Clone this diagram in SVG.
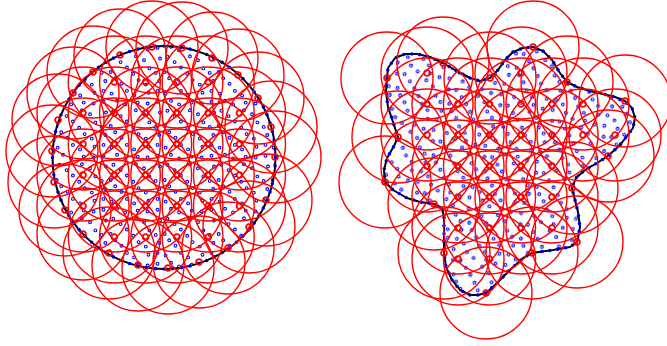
<svg xmlns="http://www.w3.org/2000/svg" width="667" height="346" viewBox="0 0 667 346">
<style>
.pd{fill:none;stroke:#0000ff;stroke-width:1.1}
.big{fill:none;stroke:#ff0000;stroke-width:1.4}
.mk{fill:none;stroke:#ff0000;stroke-width:1.8}
.bnd{fill:none;stroke:#000;stroke-width:2;stroke-linejoin:round}
.bd{fill:none;stroke:#0000ff;stroke-width:3.6;stroke-linecap:round;stroke-dasharray:0 1}
.bd2{fill:none;stroke:#000;stroke-width:1.6;stroke-linecap:round;stroke-dasharray:0 1}
</style>
<defs>
<pattern id="dots" width="54" height="54" patternUnits="userSpaceOnUse">
<g class="pd">
<circle cx="5.4" cy="2.7" r="1.4"/><circle cx="12.6" cy="8.1" r="1.4"/><circle cx="27.9" cy="2.3" r="1.4"/><circle cx="36" cy="6.3" r="1.4"/><circle cx="52" cy="4.5" r="1.4"/>
<circle cx="2.7" cy="18" r="1.4"/><circle cx="18.9" cy="13.5" r="1.4"/><circle cx="25.2" cy="19.8" r="1.4"/><circle cx="41.4" cy="14.4" r="1.4"/><circle cx="47.7" cy="18.9" r="1.4"/>
<circle cx="7.2" cy="24.3" r="1.4"/><circle cx="13.5" cy="29.7" r="1.4"/><circle cx="30.6" cy="26.1" r="1.4"/><circle cx="37.8" cy="30.6" r="1.4"/><circle cx="51.3" cy="27" r="1.4"/>
<circle cx="3.6" cy="39.6" r="1.4"/><circle cx="18.9" cy="36.9" r="1.4"/><circle cx="26.1" cy="41.4" r="1.4"/><circle cx="40.5" cy="38.7" r="1.4"/><circle cx="49.5" cy="36.9" r="1.4"/>
<circle cx="9" cy="46.8" r="1.4"/><circle cx="17.1" cy="50.4" r="1.4"/><circle cx="29.7" cy="48.6" r="1.4"/><circle cx="39.6" cy="49.5" r="1.4"/><circle cx="49.5" cy="47.7" r="1.4"/>
</g>
</pattern>
<pattern id="dots2" href="#dots" patternTransform="translate(23,11) rotate(17)"/>
<path id="shapeL" pathLength="80" d="M275.5,157.5 A111.5,111.5 0 1 1 52.5,157.5 A111.5,111.5 0 1 1 275.5,157.5Z"/>
<path id="shapeR" pathLength="108" d="M387,78 L388,68 395,58 405,54 417,54 430,57 443,63 457,71 470,78 480,81 490,78 498,70 505,60 513,52 523,48 533,47 543,51 552,60 560,73 567,82 577,87 590,91 603,94 615,97 625,101 632,108 635,118 633,128 627,136 620,145 608,156 597,163 585,170 576,178 572,188 575,200 578,212 580,227 578,238 577,242 570,247 553,250 532,253 523,258 510,270 503,277 495,285 486,293 478,295 470,295 460,290 452,280 446,267 444,253 444,237 444,217 442,208 434,204 420,202 407,198 393,190 385,182 384,170 387,158 394,146 398,137 393,122 388,107 386,92 Z"/>
<g id="rc"><circle r="46" class="big"/><circle r="2.9" class="mk"/></g>
</defs>
<rect width="667" height="346" fill="#fff"/>
<g id="left-domain">
<use href="#shapeL" fill="url(#dots)"/>
<use href="#shapeL" class="bnd"/>
<use href="#shapeL" class="bd"/>
<use href="#shapeL" class="bd2"/>
</g>
<g id="right-domain">
<use href="#shapeR" fill="url(#dots2)"/>
<use href="#shapeR" class="bnd"/>
<use href="#shapeR" class="bd"/>
<use href="#shapeR" class="bd2"/>
</g>
<g id="left-circles">
<use href="#rc" x="114.3" y="82"/><use href="#rc" x="145.6" y="82"/><use href="#rc" x="176.9" y="82"/><use href="#rc" x="208.2" y="82"/>
<use href="#rc" x="83" y="113"/><use href="#rc" x="114.3" y="113"/><use href="#rc" x="145.6" y="113"/><use href="#rc" x="176.9" y="113"/><use href="#rc" x="208.2" y="113"/><use href="#rc" x="239.5" y="113"/>
<use href="#rc" x="83" y="144"/><use href="#rc" x="114.3" y="144"/><use href="#rc" x="145.6" y="144"/><use href="#rc" x="176.9" y="144"/><use href="#rc" x="208.2" y="144"/><use href="#rc" x="239.5" y="144"/>
<use href="#rc" x="83" y="175"/><use href="#rc" x="114.3" y="175"/><use href="#rc" x="145.6" y="175"/><use href="#rc" x="176.9" y="175"/><use href="#rc" x="208.2" y="175"/><use href="#rc" x="239.5" y="175"/>
<use href="#rc" x="83" y="206"/><use href="#rc" x="114.3" y="206"/><use href="#rc" x="145.6" y="206"/><use href="#rc" x="176.9" y="206"/><use href="#rc" x="208.2" y="206"/><use href="#rc" x="239.5" y="206"/>
<use href="#rc" x="114.3" y="237"/><use href="#rc" x="145.6" y="237"/><use href="#rc" x="176.9" y="237"/><use href="#rc" x="208.2" y="237"/>
<use href="#rc" x="152" y="47"/><use href="#rc" x="182" y="48"/><use href="#rc" x="212" y="58"/><use href="#rc" x="238" y="75"/><use href="#rc" x="258" y="98"/><use href="#rc" x="271" y="127"/><use href="#rc" x="275" y="157"/><use href="#rc" x="266" y="200"/><use href="#rc" x="249" y="227"/><use href="#rc" x="228" y="248"/><use href="#rc" x="199" y="262"/><use href="#rc" x="168" y="268"/><use href="#rc" x="138" y="265"/><use href="#rc" x="109" y="253"/><use href="#rc" x="83" y="234"/><use href="#rc" x="65" y="210"/><use href="#rc" x="54" y="182"/><use href="#rc" x="52" y="151"/><use href="#rc" x="58" y="120"/><use href="#rc" x="73" y="93"/><use href="#rc" x="93" y="72"/><use href="#rc" x="120" y="55"/>
</g>
<g id="right-circles">
<use href="#rc" x="427" y="73"/><use href="#rc" x="521" y="73"/>
<use href="#rc" x="427" y="104"/><use href="#rc" x="458" y="104"/><use href="#rc" x="489.5" y="104"/><use href="#rc" x="521" y="104"/><use href="#rc" x="552" y="104"/><use href="#rc" x="583" y="104"/>
<use href="#rc" x="427" y="135"/><use href="#rc" x="458" y="135"/><use href="#rc" x="489.5" y="135"/><use href="#rc" x="521" y="135"/><use href="#rc" x="552" y="135"/><use href="#rc" x="583" y="135"/>
<use href="#rc" x="427" y="166"/><use href="#rc" x="458" y="166"/><use href="#rc" x="489.5" y="166"/><use href="#rc" x="521" y="166"/><use href="#rc" x="552" y="166"/>
<use href="#rc" x="458" y="197"/><use href="#rc" x="489.5" y="197"/><use href="#rc" x="521" y="197"/><use href="#rc" x="552" y="197"/>
<use href="#rc" x="458" y="228"/><use href="#rc" x="489.5" y="228"/><use href="#rc" x="521" y="228"/><use href="#rc" x="552" y="228"/>
<use href="#rc" x="458" y="259"/><use href="#rc" x="489.5" y="259"/>
<use href="#rc" x="387" y="78"/><use href="#rc" x="443" y="63"/><use href="#rc" x="490" y="78"/><use href="#rc" x="533" y="47"/><use href="#rc" x="567" y="82"/><use href="#rc" x="625" y="101"/><use href="#rc" x="615" y="135"/><use href="#rc" x="608" y="156"/><use href="#rc" x="572" y="188"/><use href="#rc" x="577" y="242"/><use href="#rc" x="532" y="253"/><use href="#rc" x="486" y="293"/><use href="#rc" x="444" y="253"/><use href="#rc" x="434" y="204"/><use href="#rc" x="385" y="182"/><use href="#rc" x="398" y="137"/>
</g>
</svg>
